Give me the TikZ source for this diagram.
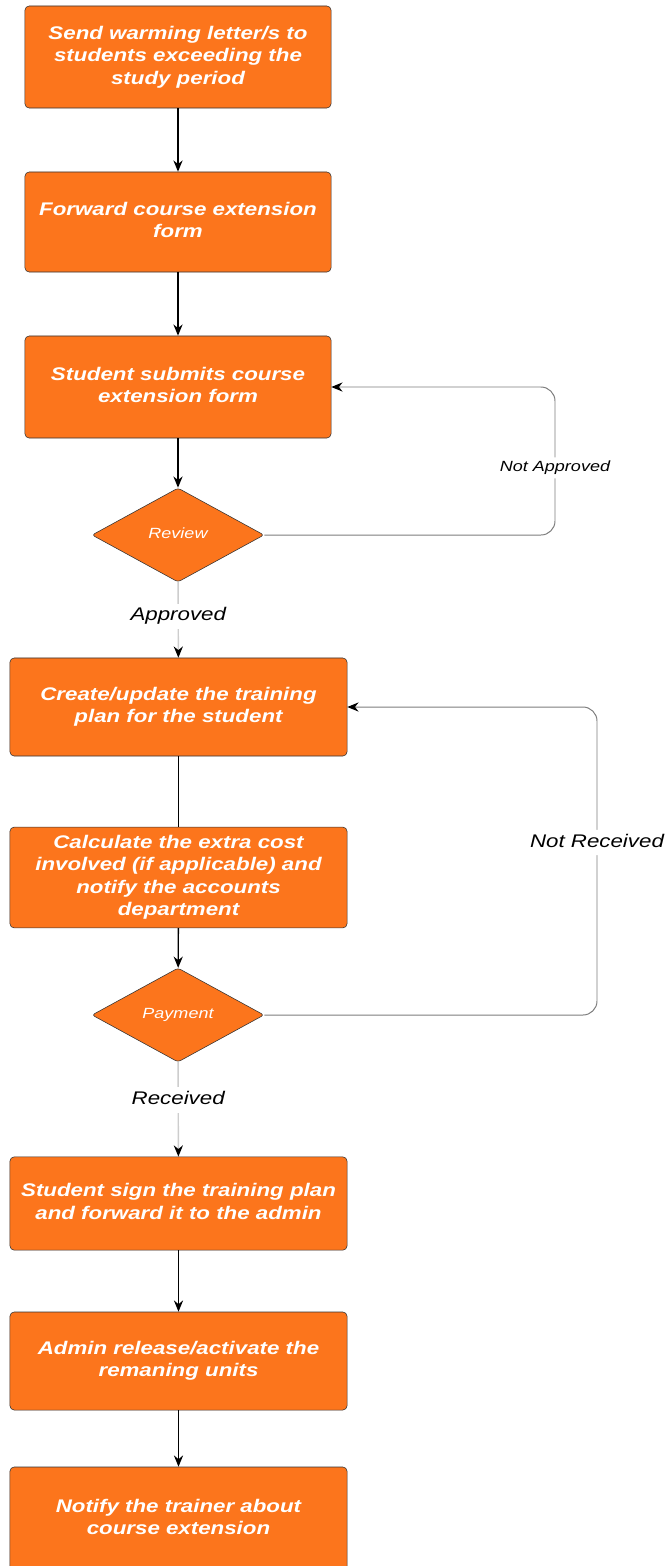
\documentclass[tikz,border=0pt]{standalone}
\usepackage{fontspec}
\setmainfont{Liberation Sans}
\usepackage{graphicx}
\usetikzlibrary{shapes.geometric, arrows.meta}
\definecolor{boxorange}{RGB}{252,117,28}
\definecolor{loopgray}{RGB}{125,125,125}
\definecolor{passgray}{RGB}{205,205,205}
\tikzset{>={Stealth[length=8pt,width=6.5pt]}}
\newcommand{\stretched}[1]{\scalebox{1.22}[1]{\begin{tabular}{@{}c@{}}#1\end{tabular}}}
\tikzset{
  stepbox/.style={draw=black!80, fill=boxorange, rounded corners=3pt, text=white,
    font=\fontsize{13pt}{16pt}\selectfont\bfseries\itshape, inner sep=0pt,
    minimum width=7.65cm, minimum height=2.5cm},
  widebox/.style={stepbox, minimum width=8.425cm, minimum height=2.45cm},
  decision/.style={diamond, draw=black!80, fill=boxorange, text=white, rounded corners=2pt,
    font=\fontsize{10.5pt}{13pt}\selectfont\itshape, inner sep=0pt,
    minimum width=4.3cm, minimum height=2.35cm},
  flow/.style={->, line width=1pt, black},
  pass/.style={-{Stealth[black,length=8pt,width=6.5pt]}, line width=1pt, passgray},
  back/.style={-{Stealth[black,length=8pt,width=6.5pt]}, line width=0.7pt, loopgray, rounded corners=10pt},
  tag/.style={fill=white, text=black, inner sep=1pt, font=\fontsize{13pt}{16pt}\selectfont\itshape},
  smalltag/.style={tag, font=\fontsize{10.5pt}{13pt}\selectfont\itshape}
}

\begin{document}
\begin{tikzpicture}[x=0.025cm, y=-0.025cm]
    \useasboundingbox (0,0) rectangle (667,1566);
    % main column
    \node[stepbox, minimum height=2.55cm] (warn) at (178,57) {\stretched{Send warming letter/s to\\students exceeding the\\study period}};
    \node[stepbox] (forward) at (178,222) {\stretched{Forward course extension\\form}};
    \node[stepbox, minimum height=2.55cm] (submit) at (178,387) {\stretched{Student submits course\\extension form}};
    \node[decision] (review) at (178,535) {\stretched{Review}};
    \node[widebox] (plan) at (178.5,707) {\stretched{Create/update the training\\plan for the student}};
    \node[widebox, minimum height=2.52cm] (cost) at (178.5,877.5) {\stretched{Calculate the extra cost\\involved (if applicable) and\\notify the accounts\\department}};
    \node[decision] (payment) at (178,1015) {\stretched{Payment}};
    \node[widebox, minimum height=2.33cm] (sign) at (178.5,1203.5) {\stretched{Student sign the training plan\\and forward it to the admin}};
    \node[widebox] (release) at (178.5,1361) {\stretched{Admin release/activate the\\remaning units}};
    \node[widebox, minimum height=2.6cm] (notify) at (178.5,1519) {\stretched{Notify the trainer about\\course extension}};

    \coordinate (turnA) at (555,535);
    \coordinate (turnB) at (597,1015);

    \draw[flow] (warn) -- (forward);
    \draw[flow] (forward) -- (submit);
    \draw[flow] (submit) -- (review);
    \draw[pass] (review) -- node[tag, pos=0.45] {\stretched{Approved}} (plan);
    \draw[line width=1pt] (plan) -- (cost);
    \draw[flow] (cost) -- (payment);
    \draw[pass] (payment) -- node[tag, pos=0.4] {\stretched{Received}} (sign);
    \draw[flow] (sign) -- (release);
    \draw[flow] (release) -- (notify);

    % loops back
    \draw[back] (review.east) -- (turnA) |- node[smalltag, pos=0.227] {\stretched{Not Approved}} (submit.east);
    \draw[back] (payment.east) -- (turnB) |- node[tag, pos=0.28] {\stretched{Not Received}} (plan.east);
\end{tikzpicture}
\end{document}
